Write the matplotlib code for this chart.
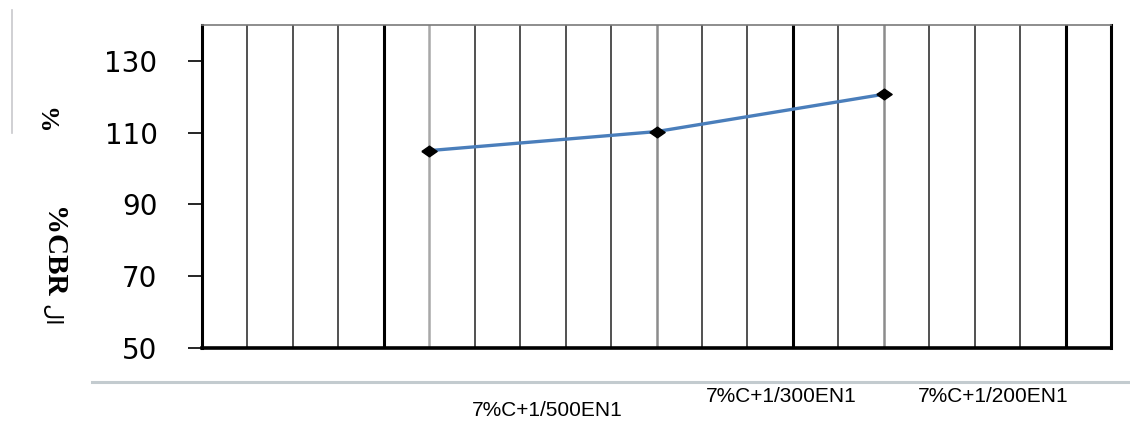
import matplotlib.pyplot as plt
from matplotlib.lines import Line2D
from matplotlib.transforms import Bbox, TransformedBbox, blended_transform_factory

# Datos: CBR (%) para cada mezcla
mezclas = ['7%C+1/500EN1', '7%C+1/300EN1', '7%C+1/200EN1']
cbr = [105, 110.3, 120.7]
y_ticks = [50, 70, 90, 110, 130]

W, H = 1130, 421
fig = plt.figure(figsize=(W / 100, H / 100), dpi=100)
ax = fig.add_axes([202 / W, 1 - 348 / H, (1111 - 202) / W, (348 - 25) / H])

ax.set_xlim(0, 20)
ax.set_ylim(50, 140)

# Rejilla vertical con grosores distintos
gruesas = [4, 13, 19]
grises = [5, 10, 15]
for i in range(1, 20):
    if i in gruesas:
        ax.axvline(i, color='black', lw=2.2, zorder=1)
    elif i in grises:
        ax.axvline(i, color='#a8a8a8' if i == 5 else '#8c8c8c', lw=1.8, zorder=1)
    else:
        ax.axvline(i, color='#222222', lw=1.1, zorder=1)

# Curva de CBR
x = [5 * (i + 1) for i in range(len(cbr))]
rombo = [(-1, 0), (0, 0.7), (1, 0), (0, -0.7), (-1, 0)]
ax.plot(x, cbr, color='#4a7ebb', lw=2.4, zorder=3)
ax.plot(x, cbr, linestyle='none', marker=rombo, ms=11, color='black', zorder=4)

# Ejes
for lado in ['left', 'right']:
    ax.spines[lado].set_linewidth(2.2)
    ax.spines[lado].set_color('black')
ax.spines['bottom'].set_linewidth(2.6)
ax.spines['top'].set_linewidth(1.2)
ax.spines['top'].set_color('#7a7a7a')

ax.set_xticks([])
ax.set_yticks(y_ticks)
ax.tick_params(axis='y', length=10, width=1.2, pad=22, labelsize=20)
for t in ax.get_yticklabels():
    t.set_family('DejaVu Sans')

# Etiquetas de las mezclas bajo el eje
trans = blended_transform_factory(ax.transData, fig.transFigure)
pos_x = [7.6, 12.75, 17.4]
pos_y = [1 - 410 / H, 1 - 397 / H, 1 - 397 / H]
for nombre, px, py in zip(mezclas, pos_x, pos_y):
    ax.text(px, py, nombre, transform=trans, ha='center', va='center',
            fontsize=15, family='Liberation Sans')

# Titulo del eje Y
fig.text(52 / W, 1 - 252 / H, '%CBR', rotation=-90, ha='center', va='center',
         fontsize=21, fontweight='bold', family='Liberation Serif')
fig.text(50 / W, 1 - 315 / H, '\ufedd\ufe8d', rotation=-90, ha='center', va='center',
         fontsize=16, family='DejaVu Sans')
t = fig.text(45 / W, 1 - 127 / H, '%1', rotation=-90, ha='center', va='center',
             fontsize=19, fontweight='bold', family='Liberation Serif')
t.set_clip_box(TransformedBbox(Bbox([[0, 1 - 133 / H], [0.1, 1]]), fig.transFigure))
t.set_clip_on(True)

# Lineas de borde
fig.add_artist(Line2D([92 / W, 1], [1 - 382 / H] * 2, color='#c3cbcf', lw=2.2))
fig.add_artist(Line2D([12 / W] * 2, [1 - 10 / H, 1 - 133 / H], color='#c8c8cc', lw=1.2))

fig.savefig('out.png', dpi=100)
